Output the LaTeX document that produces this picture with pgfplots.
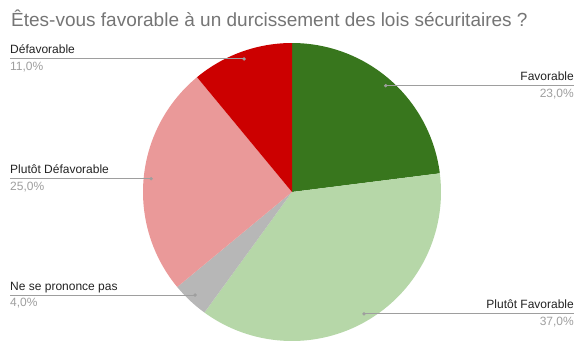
\documentclass[border=0pt]{standalone}
\usepackage{fontspec}
\setmainfont{Liberation Sans}
\usepackage{pgfplots}
\pgfplotsset{compat=1.18}
\definecolor{cFav}{HTML}{38761D}
\definecolor{cPFav}{HTML}{B6D7A8}
\definecolor{cNSP}{HTML}{B7B7B7}
\definecolor{cPDef}{HTML}{EA9999}
\definecolor{cDef}{HTML}{CC0000}
\definecolor{lead}{HTML}{9E9E9E}
\definecolor{titlec}{HTML}{757575}
\definecolor{labc}{HTML}{222222}
\definecolor{pctc}{HTML}{9E9E9E}
% data (percent)
\def\vFav{23}
\def\vPFav{37}
\def\vNSP{4}
\def\vPDef{25}
\def\vDef{11}
\pgfmathsetmacro\aA{90}
\pgfmathsetmacro\aB{\aA-3.6*\vFav}
\pgfmathsetmacro\aC{\aB-3.6*\vPFav}
\pgfmathsetmacro\aD{\aC-3.6*\vNSP}
\pgfmathsetmacro\aE{\aD-3.6*\vPDef}
\pgfmathsetmacro\aF{\aE-3.6*\vDef}
\begin{document}
\begin{tikzpicture}
\begin{axis}[width=585pt,height=351pt,scale only axis,
  xmin=0,xmax=585,ymin=0,ymax=351,hide axis,clip=false]
\path (axis cs:0,0) rectangle (axis cs:585,351);
\addplot[draw=none,fill=cFav,domain=\aB:\aA,samples=60,variable=\t]
  ({292+149*cos(t)},{159+149*sin(t)}) -- (axis cs:292,159) -- cycle;
\addplot[draw=none,fill=cPFav,domain=\aC:\aB,samples=80,variable=\t]
  ({292+149*cos(t)},{159+149*sin(t)}) -- (axis cs:292,159) -- cycle;
\addplot[draw=none,fill=cNSP,domain=\aD:\aC,samples=20,variable=\t]
  ({292+149*cos(t)},{159+149*sin(t)}) -- (axis cs:292,159) -- cycle;
\addplot[draw=none,fill=cPDef,domain=\aE:\aD,samples=60,variable=\t]
  ({292+149*cos(t)},{159+149*sin(t)}) -- (axis cs:292,159) -- cycle;
\addplot[draw=none,fill=cDef,domain=\aF:\aE,samples=40,variable=\t]
  ({292+149*cos(t)},{159+149*sin(t)}) -- (axis cs:292,159) -- cycle;
% leader lines
\addplot[lead,line width=1pt] coordinates {(385.7,265.3) (574,265.3)};
\addplot[lead,line width=1pt] coordinates {(364,37.2) (574,37.2)};
\addplot[lead,line width=1pt] coordinates {(195.1,55.9) (10,55.9)};
\addplot[lead,line width=1pt] coordinates {(151.1,172.3) (10,172.3)};
\addplot[lead,line width=1pt] coordinates {(244.1,292.1) (10,292.1)};
\addplot[only marks,mark=*,mark size=1.5pt,lead] coordinates {(385.7,265.3) (364,37.2) (195.1,55.9) (151.1,172.3) (244.1,292.1)};
% title
\node[anchor=base west,inner sep=0pt,text=titlec,font=\fontsize{19}{22}\selectfont] at (axis cs:11,324) {Êtes-vous favorable à un durcissement des lois sécuritaires ?};
% labels
\tikzset{lab/.style={inner sep=0pt,text=labc,font=\fontsize{12}{14}\selectfont},
         pct/.style={inner sep=0pt,text=pctc,font=\fontsize{12}{14}\selectfont}}
\node[lab,anchor=base east] at (axis cs:574,270.3) {Favorable};
\node[pct,anchor=base east] at (axis cs:574,253.6) {23,0\%};
\node[lab,anchor=base east] at (axis cs:574,42.2) {Plutôt Favorable};
\node[pct,anchor=base east] at (axis cs:574,25.5) {37,0\%};
\node[lab,anchor=base west] at (axis cs:10,60.9) {Ne se prononce pas};
\node[pct,anchor=base west] at (axis cs:10,44.2) {4,0\%};
\node[lab,anchor=base west] at (axis cs:10,177.3) {Plutôt Défavorable};
\node[pct,anchor=base west] at (axis cs:10,160.6) {25,0\%};
\node[lab,anchor=base west] at (axis cs:10,297.1) {Défavorable};
\node[pct,anchor=base west] at (axis cs:10,280.4) {11,0\%};
\end{axis}
\end{tikzpicture}
\end{document}
